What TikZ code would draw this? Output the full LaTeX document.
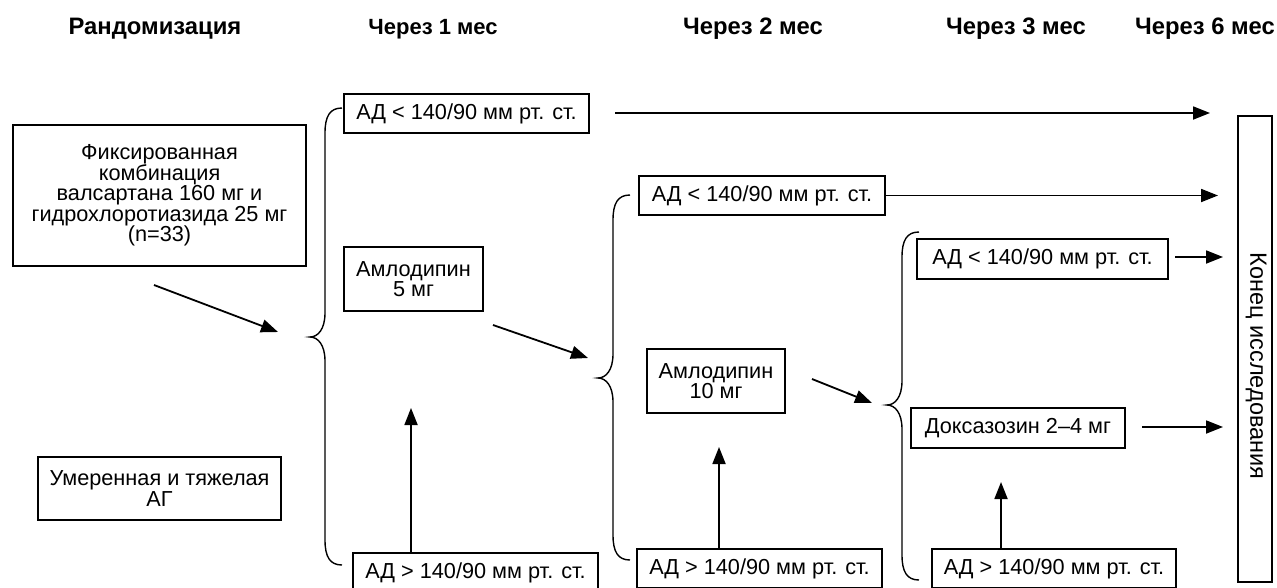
\documentclass[tikz,border=0pt]{standalone}
\usepackage{fontspec}
\setmainfont{Liberation Sans}
\usetikzlibrary{arrows.meta}

% фигурная скобка: x острия, y острия, y верха, y низа
\newcommand{\skobka}[4]{%
  \draw[skobka line] ({#1+32},#3) .. controls ({#1+20},#3) and ({#1+15},{#3+8}) .. ({#1+15},{#3+25})
    -- ({#1+15},{#2-24}) .. controls ({#1+15},{#2-8}) and ({#1+8},#2) .. (#1,#2)
    .. controls ({#1+8},#2) and ({#1+15},{#2+8}) .. ({#1+15},{#2+24})
    -- ({#1+15},{#4-25}) .. controls ({#1+15},{#4-8}) and ({#1+20},#4) .. ({#1+32},#4);}

\begin{document}
\begin{tikzpicture}[x=1pt, y=-1pt,
    every node/.style={font=\fontsize{21.7}{20.5}\selectfont},
    box/.style={draw, line width=1.3pt, align=center, inner sep=0pt},
    head/.style={font=\fontsize{23.8}{26}\selectfont\bfseries},
    strelka/.style={line width=1.8pt, -{Triangle[length=17pt,width=13pt]}},
    skobka line/.style={line width=1.4pt}]
    \useasboundingbox (0,0) rectangle (1277,587);

    % Заголовки этапов
    \node[head] (rand) at (155,29) {Рандомизация};
    \node[head, font=\fontsize{22}{26}\selectfont\bfseries] (m1) at (433,29) {Через 1 мес};
    \node[head] (m2) at (753,29) {Через 2 мес};
    \node[head] (m3) at (1016,29) {Через 3 мес};
    \node[head] (m6) at (1205,29) {Через 6 мес};

    % Исходная терапия
    \node[box, minimum width=293pt, minimum height=141pt] (fix) at (159.5,195.5)
        {Фиксированная\\комбинация\\валсартана 160 мг и\\гидрохлоротиазида 25 мг\\(n=33)};
    \node[box, minimum width=243pt, minimum height=63pt] (ag) at (159.5,488.5)
        {Умеренная и тяжелая\\АГ};

    % Через 1 мес
    \node[box, minimum width=245pt, minimum height=39pt] (ok1) at (466.5,113.5) {АД < 140/90 мм рт. ст.};
    \node[box, minimum width=139pt, minimum height=64pt] (aml5) at (413.5,279) {Амлодипин\\5 мг};
    \node[box, minimum width=245pt, minimum height=39pt] (high1) at (475.5,572.5) {АД > 140/90 мм рт. ст.};

    % Через 2 мес
    \node[box, minimum width=246pt, minimum height=39pt] (ok2) at (762,195.5) {АД < 140/90 мм рт. ст.};
    \node[box, minimum width=138pt, minimum height=64pt] (aml10) at (716,381) {Амлодипин\\10 мг};
    \node[box, minimum width=245pt, minimum height=39pt] (high2) at (759.5,568.5) {АД > 140/90 мм рт. ст.};

    % Через 3 мес
    \node[box, minimum width=251pt, minimum height=40pt] (ok3) at (1042.5,259) {АД < 140/90 мм рт. ст.};
    \node[box, minimum width=214pt, minimum height=40pt] (dox) at (1018,428) {Доксазозин 2--4 мг};
    \node[box, minimum width=244pt, minimum height=39pt] (high3) at (1054,568.5) {АД > 140/90 мм рт. ст.};

    % Конец исследования
    \node[box, minimum width=34pt, minimum height=466pt] (finish) at (1255,349) {};
    \node[rotate=-90, font=\fontsize{23.5}{26}\selectfont] (finishtext) at (1256,366) {Конец исследования};

    % Скобки
    \skobka{310}{337}{108}{565}
    \skobka{598}{378}{195}{560}
    \skobka{887}{405}{232}{580}

    % Свободные концы стрелок
    \coordinate (a1s) at (615,113);
    \coordinate (a1e) at (1210,113);
    \coordinate (a2e) at (1218,195.5);
    \coordinate (a3s) at (1175,257);
    \coordinate (a3e) at (1223,257);
    \coordinate (a4s) at (1142,427);
    \coordinate (a4e) at (1223,427);
    \coordinate (d1s) at (154,285);
    \coordinate (d1e) at (278,332);
    \coordinate (d2s) at (493,325);
    \coordinate (d2e) at (588,358);
    \coordinate (d3s) at (812,379);
    \coordinate (d3e) at (872,403);
    \coordinate (u1) at (411,408);
    \coordinate (u2) at (719,447);
    \coordinate (u3) at (1001,482);

    % Стрелки
    \draw[strelka] (a1s) -- (a1e);
    \draw[strelka] (ok2.east) -- (a2e);
    \draw[strelka] (a3s) -- (a3e);
    \draw[strelka] (a4s) -- (a4e);
    \draw[strelka] (d1s) -- (d1e);
    \draw[strelka] (d2s) -- (d2e);
    \draw[strelka] (d3s) -- (d3e);
    \draw[strelka] (high1.north -| u1) -- (u1);
    \draw[strelka] (high2.north -| u2) -- (u2);
    \draw[strelka] (high3.north -| u3) -- (u3);
\end{tikzpicture}
\end{document}
